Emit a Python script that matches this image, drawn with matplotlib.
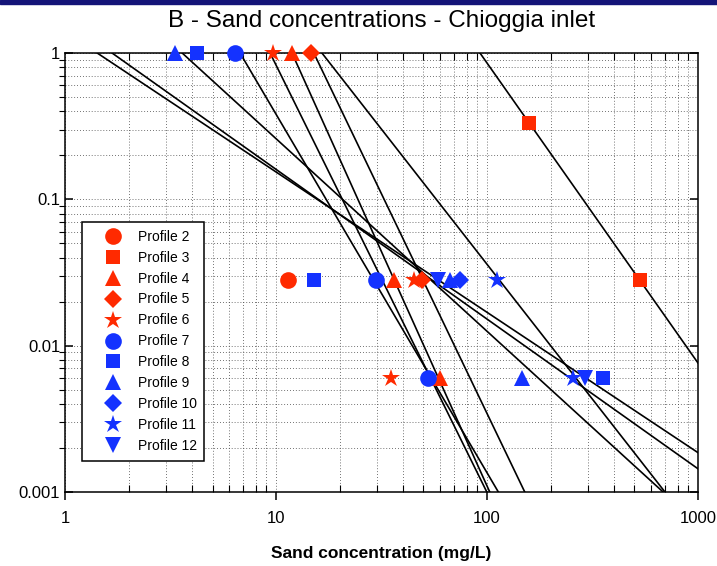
import numpy as np
import matplotlib
matplotlib.use('Agg')
import matplotlib.pyplot as plt
from matplotlib.ticker import FixedLocator, LogLocator, NullFormatter

plt.rcParams['font.family'] = ['Liberation Sans', 'DejaVu Sans']

RED = '#ff2a00'
BLUE = '#1432ff'

# profile markers: label, colour, marker, x (mg/L), y (relative depth)
profiles = ['Profile 2', 'Profile 3', 'Profile 4', 'Profile 5', 'Profile 6', 'Profile 7',
            'Profile 8', 'Profile 9', 'Profile 10', 'Profile 11', 'Profile 12']
colors = [RED, RED, RED, RED, RED, BLUE, BLUE, BLUE, BLUE, BLUE, BLUE]
markers = ['o', 's', '^', 'D', '*', 'o', 's', '^', 'D', '*', 'v']
xs = [[11.4], [158, 531], [11.9, 36.3, 59.9], [14.6, 49], [9.7, 45, 35],
      [6.4, 29.8, 52.5], [4.22, 15.1, 354], [3.32, 66.8, 146.5], [74.5],
      [111, 256], [58.6, 291]]
ys = [[0.028], [0.333, 0.028], [1, 0.028, 0.006], [1, 0.028], [1, 0.028, 0.006],
      [1, 0.028, 0.006], [1, 0.028, 0.006], [1, 0.028, 0.006], [0.028],
      [0.028, 0.006], [0.028, 0.006]]
msize = {'o': 12, 's': 10.5, '^': 12, 'v': 12, 'D': 9, '*': 13.5}

# power-law fits: concentration where y = 1, and slope dlog(y)/dlog(x)
fit_x0 = [92.6, 1.42, 1.67, 3.59, 16.5, 15.1, 11.9, 9.37, 6.75]
fit_slope = [-2.05, -0.959, -1.023, -1.316, -1.845, -3.0, -3.2, -2.92, -2.45]

fig = plt.figure(figsize=(7.17, 5.66), dpi=100)
ax = fig.add_axes([0.0907, 0.1307, 0.8828, 0.7757])
ax.set_xscale('log')
ax.set_yscale('log')
ax.set_xlim(1, 1000)
ax.set_ylim(0.001, 1)

xx = np.array([1.0, 1000.0])
for x0, m in zip(fit_x0, fit_slope):
    ax.plot(xx, (xx / x0) ** m, color='black', lw=1.2, zorder=3)

for lab, c, mk, x, y in zip(profiles, colors, markers, xs, ys):
    ax.plot(x, y, linestyle='none', marker=mk, color=c, markersize=msize[mk],
            markeredgewidth=0, label=lab, clip_on=False, zorder=5)

ax.grid(True, which='both', color='#444444', linestyle=(0, (1, 2.5)), linewidth=0.6)

ax.xaxis.set_major_locator(FixedLocator([1, 10, 100, 1000]))
ax.xaxis.set_minor_locator(LogLocator(base=10, subs=np.arange(2, 10)))
ax.xaxis.set_minor_formatter(NullFormatter())
ax.set_xticklabels(['1', '10', '100', '1000'])
ax.yaxis.set_major_locator(FixedLocator([0.001, 0.01, 0.1, 1]))
ax.yaxis.set_minor_locator(LogLocator(base=10, subs=np.arange(2, 10)))
ax.yaxis.set_minor_formatter(NullFormatter())
ax.set_yticklabels(['0.001', '0.01', '0.1', '1'])

ax.tick_params(axis='x', which='major', direction='out', length=6, width=1.1,
               labelsize=12, pad=8)
ax.tick_params(axis='x', which='minor', direction='in', length=5, width=0.8, top=True)
ax.tick_params(axis='y', which='major', direction='in', length=6, width=1.1,
               labelsize=12, right=True)
ax.tick_params(axis='y', which='minor', direction='out', length=4, width=0.8)

for s in ax.spines.values():
    s.set_linewidth(1.1)
    s.set_color('black')

ax.set_title('B - Sand concentrations - Chioggia inlet', fontsize=17.5, pad=19)
ax.set_xlabel('Sand concentration (mg/L)', fontsize=12.5, fontweight='bold', labelpad=14)

leg = ax.legend(loc='upper left', bbox_to_anchor=(0.027, 0.615), borderaxespad=0,
                fontsize=10, labelspacing=0.5, handletextpad=0.15, borderpad=0.55,
                fancybox=False, framealpha=1, edgecolor='black', handlelength=3.3)
leg.get_frame().set_linewidth(1.1)

fig.add_artist(plt.Rectangle((0, 1 - 4 / 566), 1, 4 / 566, transform=fig.transFigure,
                             color='#141478', zorder=10))

fig.savefig('out.png', dpi=100)
